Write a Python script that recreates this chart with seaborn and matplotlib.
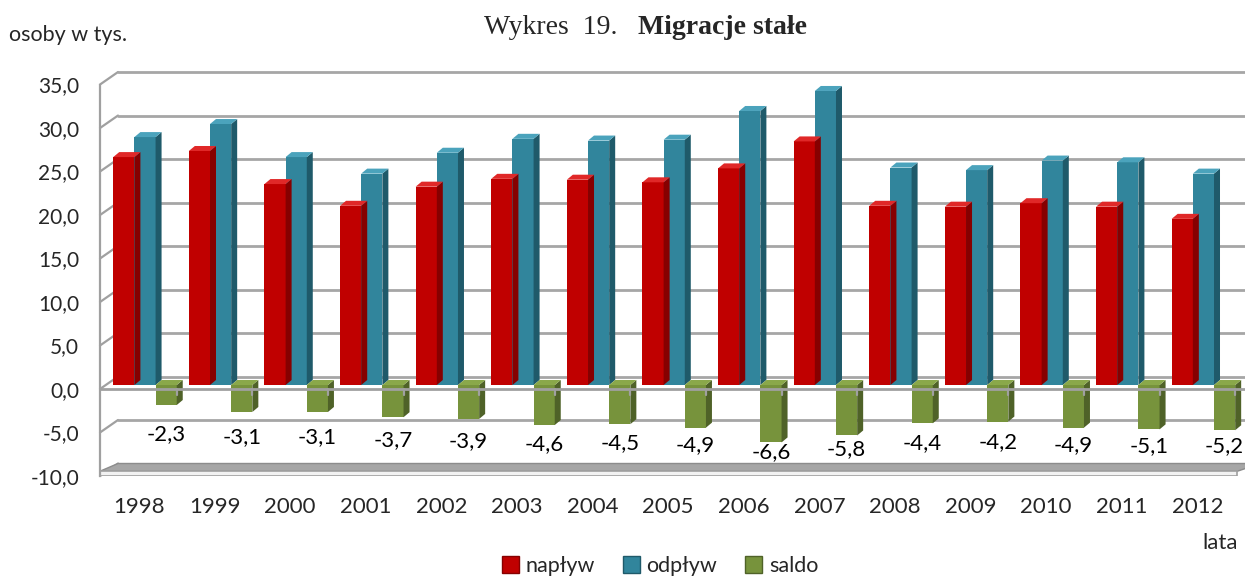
import matplotlib
matplotlib.use("Agg")
import matplotlib.pyplot as plt
from matplotlib.patches import Polygon, Patch
from matplotlib.transforms import ScaledTranslation
import seaborn as sns
import pandas as pd
import numpy as np

# dane (osoby w tys.)
lata = ["1998", "1999", "2000", "2001", "2002", "2003", "2004", "2005",
        "2006", "2007", "2008", "2009", "2010", "2011", "2012"]
naplyw = [26.2, 26.9, 23.1, 20.6, 22.8, 23.7, 23.6, 23.3, 24.9, 28.0, 20.6, 20.5, 20.9, 20.5, 19.1]
odplyw = [28.5, 30.0, 26.2, 24.3, 26.7, 28.3, 28.1, 28.2, 31.5, 33.8, 25.0, 24.7, 25.8, 25.6, 24.3]
saldo = [-2.3, -3.1, -3.1, -3.7, -3.9, -4.6, -4.5, -4.9, -6.6, -5.8, -4.4, -4.2, -4.9, -5.1, -5.2]
serie = ["napływ", "odpływ", "saldo"]
y_ticks = list(range(-10, 36, 5))

# kolory: przód, bok, góra
kolory = {
    "napływ": ("#C00000", "#860000", "#E02828"),
    "odpływ": ("#31859C", "#1F5A6A", "#4BA3BC"),
    "saldo": ("#77933C", "#4F6228", "#8AA84A"),
}

df = pd.DataFrame({
    "rok": lata * 3,
    "seria": [s for s in serie for _ in lata],
    "wartosc": naplyw + odplyw + saldo,
})

sns.set_style("white")
plt.rcParams["font.family"] = ["Lato", "DejaVu Sans"]

fig = plt.figure(figsize=(12.45, 5.77), dpi=100)
ax = fig.add_axes([100 / 1245, 1 - 476 / 577, 1145 / 1245, 414 / 577])

sns.barplot(data=df, x="rok", y="wartosc", hue="seria", hue_order=serie,
            palette={s: kolory[s][0] for s in serie}, width=0.84,
            saturation=1, legend=False, ax=ax, zorder=3, linewidth=0)

x0, x1 = -0.595, 14.55
ax.set_xlim(x0, x1)
ax.set_ylim(-10, 37.59)

# przeliczenie pikseli na jednostki danych
px_x = (x1 - x0) / 1145
px_y = 47.59 / 414

# słupki stoją nieco za przednią płaszczyzną
shift = ax.transData + ScaledTranslation(0, 4 / 100, fig.dpi_scale_trans)

# ściana tylna: siatka i skosy od osi przedniej
bx, by = 18 * px_x, 12.5 * px_y
for v in y_ticks:
    ax.plot([x0, x0 + bx], [v, v + by], color="#A0A0A0", lw=1.6, zorder=1, clip_on=False)
    ax.plot([x0 + bx, x1 + 1], [v + by, v + by], color="#A6A6A6", lw=2.0, zorder=1)

# podłoga
fl = [(x0, -10 + 0.55), (x1 - 0.1, -10 + 0.55), (x1 + 0.2, -10 + by), (x0 + bx, -10 + by)]
ax.add_patch(Polygon(fl, closed=True, fc="#A6A6A6", ec="#8C8C8C", lw=1, zorder=2))
ax.add_patch(Polygon([(x0, -10), (x1 - 0.1, -10), (x1 - 0.1, -10 + 0.55), (x0, -10 + 0.55)],
                     closed=True, fc="#F2F2F2", ec="#A0A0A0", lw=1.2, zorder=2))

# efekt 3D słupków
dx, dy = 6 * px_x, 5 * px_y
lookup = {matplotlib.colors.to_hex(kolory[s][0]): kolory[s] for s in serie}
green_x = []
for p in list(ax.patches):
    if not hasattr(p, "get_width") or p.get_height() == 0:
        continue
    fc = matplotlib.colors.to_hex(p.get_facecolor())
    if fc not in lookup:
        continue
    p.set_transform(shift)
    _, bok, gora = lookup[fc]
    xa = p.get_x()
    xb = xa + p.get_width()
    if fc == "#77933c":
        green_x.append((xa + xb) / 2)
    ya, yb = sorted([p.get_y(), p.get_y() + p.get_height()])
    side = [(xb, ya), (xb, yb), (xb + dx, yb + dy), (xb + dx, ya + dy)]
    top = [(xa, yb), (xb, yb), (xb + dx, yb + dy), (xa + dx, yb + dy)]
    z = p.get_zorder()
    ax.add_patch(Polygon(side, closed=True, fc=bok, ec="none", zorder=z, transform=shift))
    ax.add_patch(Polygon(top, closed=True, fc=gora, ec="none", zorder=z, transform=shift))

# oś kategorii na poziomie 0
ax.plot([x0, x1], [0, 0], color="#A0A0A0", lw=2.0, zorder=5)
for i in range(len(lata)):
    xt = i - 0.079 + 0.5
    ax.plot([xt, xt], [0, -6 * px_y], color="#A0A0A0", lw=1.6, zorder=5)

# etykiety salda
for gx, v in zip(green_x, saldo):
    ax.text(gx, v / 2 - 4.0, f"{v:.1f}".replace(".", ","), ha="center", va="center",
            fontsize=16, color="black", zorder=6)

# osie
ax.set_xticks(np.arange(len(lata)) - 0.079)
ax.set_xticklabels(lata, fontsize=16)
ax.set_yticks(y_ticks)
ax.set_yticklabels([f"{v:.1f}".replace(".", ",") for v in y_ticks], fontsize=15)
ax.tick_params(axis="x", length=0, pad=15)
ax.tick_params(axis="y", length=5, width=1.5, color="#A0A0A0", pad=10)
ax.set_xlabel("")
ax.set_ylabel("")
for s in ["top", "right", "bottom"]:
    ax.spines[s].set_visible(False)
ax.spines["left"].set_color("#A0A0A0")
ax.spines["left"].set_linewidth(1.6)
ax.spines["left"].set_bounds(-10, 35)
ax.grid(False)

# teksty
fig.text(617 / 1245, 1 - 28 / 577, "Wykres  19.", ha="right", va="center",
         fontsize=20, family="Liberation Serif")
fig.text(638 / 1245, 1 - 28 / 577, "Migracje stałe", ha="left", va="center",
         fontsize=20, family="Liberation Serif", weight="bold")
fig.text(9 / 1245, 1 - 35 / 577, "osoby w tys.", ha="left", va="center", fontsize=15.5)
fig.text(1238 / 1245, 1 - 543 / 577, "lata", ha="right", va="center", fontsize=16)

handles = [Patch(fc=kolory[s][0], ec=kolory[s][1], lw=1) for s in serie]
fig.legend(handles, serie, loc="center", bbox_to_anchor=(660 / 1245, 1 - 566 / 577), ncol=3,
           frameon=False, fontsize=15.5, handlelength=0.8, handleheight=0.8,
           handletextpad=0.3, columnspacing=1.3)

fig.savefig("out.png", dpi=100)
